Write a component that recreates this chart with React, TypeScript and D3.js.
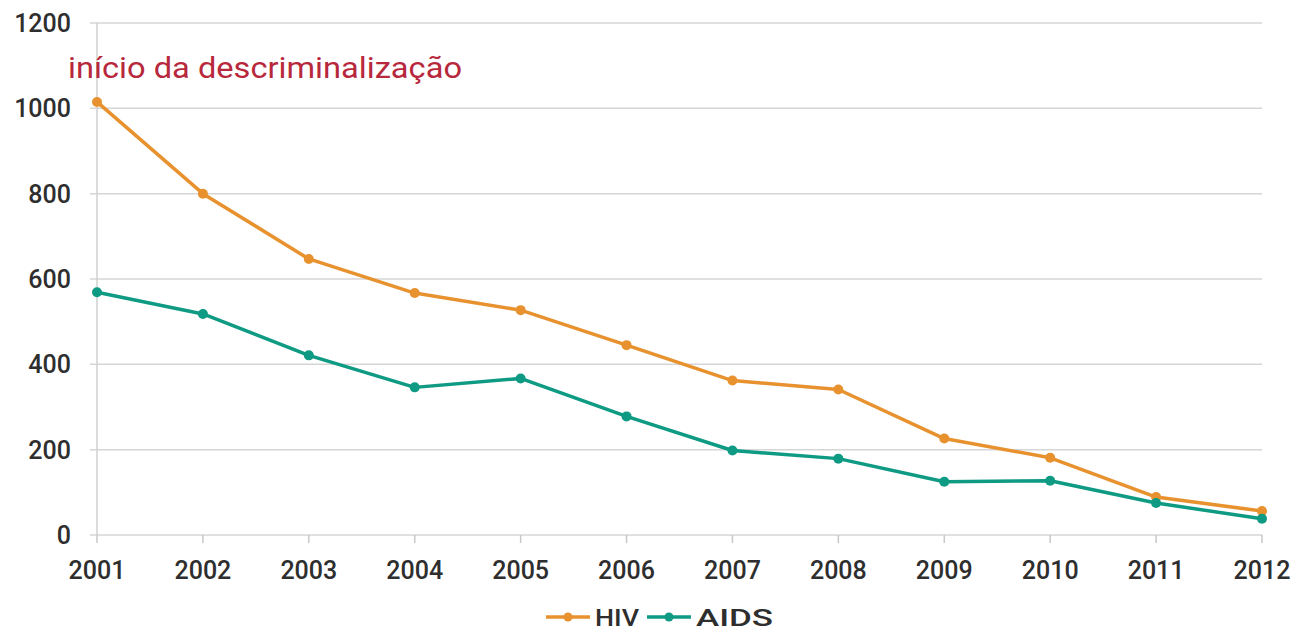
import React, { useEffect } from 'react';
import * as d3 from 'd3';

const years = ['2001', '2002', '2003', '2004', '2005', '2006', '2007', '2008', '2009', '2010', '2011', '2012'];
const hiv = [1015, 800, 647, 567, 527, 445, 362, 341, 226, 181, 89, 56];
const aids = [569, 518, 421, 346, 367, 278, 198, 179, 125, 127, 75, 38];
const yTicks = [0, 200, 400, 600, 800, 1000, 1200];

const ORANGE = '#e8922f';
const TEAL = '#0e9a83';
const FONT = 'Roboto, "Noto Sans", sans-serif';

const W = 1309;
const H = 631;

const App = () => {
  useEffect(() => {
    document.body.style.margin = '0';
  }, []);

  const x = d3.scalePoint().domain(years).range([97, 1262]);
  const y = d3.scaleLinear().domain([0, 1200]).range([535, 23]);

  const line = d3.line<number>()
    .x((_, i) => x(years[i]) as number)
    .y(d => y(d));

  const series = [
    { name: 'HIV', values: hiv, color: ORANGE },
    { name: 'AIDS', values: aids, color: TEAL },
  ];

  // legend layout
  const legend = [
    { name: 'HIV', color: ORANGE, x0: 546, w: 44 },
    { name: 'AIDS', color: TEAL, x0: 647, w: 77 },
  ];

  return (
    <svg width={W} height={H} style={{ display: 'block', background: '#fff' }}>
      {/* grid */}
      {yTicks.map(t => (
        <g key={t}>
          <line x1={90} x2={1262} y1={y(t)} y2={y(t)} stroke="#d6d6d6" strokeWidth={1.5} />
          <text x={71} y={y(t)} dy="0.36em" textAnchor="end" fontFamily={FONT} fontSize={25} fontWeight={500} fill="#2e2e2e">{t}</text>
        </g>
      ))}
      {/* y axis line */}
      <line x1={97} x2={97} y1={y(1200)} y2={y(0)} stroke="#d0d0d0" strokeWidth={1.5} />
      {/* x ticks */}
      {years.map(yr => (
        <g key={yr} transform={`translate(${x(yr)},0)`}>
          <line y1={y(0)} y2={y(0) + 8} stroke="#c8c8c8" strokeWidth={1.5} />
          <text y={579} textAnchor="middle" fontFamily={FONT} fontSize={25} fontWeight={500} fill="#2e2e2e">{yr}</text>
        </g>
      ))}
      {/* annotation */}
      <text x={68} y={78} fontFamily={FONT} fontSize={29} textLength={394} lengthAdjust="spacingAndGlyphs" fill="#b8283c">início da descriminalização</text>
      {/* series */}
      {series.map(s => (
        <g key={s.name}>
          <path d={line(s.values) || ''} fill="none" stroke={s.color} strokeWidth={3.5} strokeLinejoin="round" />
          {s.values.map((v, i) => (
            <circle key={i} cx={x(years[i])} cy={y(v)} r={5} fill={s.color} />
          ))}
        </g>
      ))}
      {/* legend */}
      {legend.map(l => (
        <g key={l.name} transform={`translate(${l.x0},617)`}>
          <line x1={0} x2={44} y1={0} y2={0} stroke={l.color} strokeWidth={3.5} />
          <circle cx={22} cy={0} r={4.5} fill={l.color} />
          <text x={49} y={0} dy="0.36em" fontFamily={FONT} fontSize={24} fontWeight={500} textLength={l.w} lengthAdjust="spacingAndGlyphs" fill="#2e2e2e">{l.name}</text>
        </g>
      ))}
    </svg>
  );
};

export default App;
